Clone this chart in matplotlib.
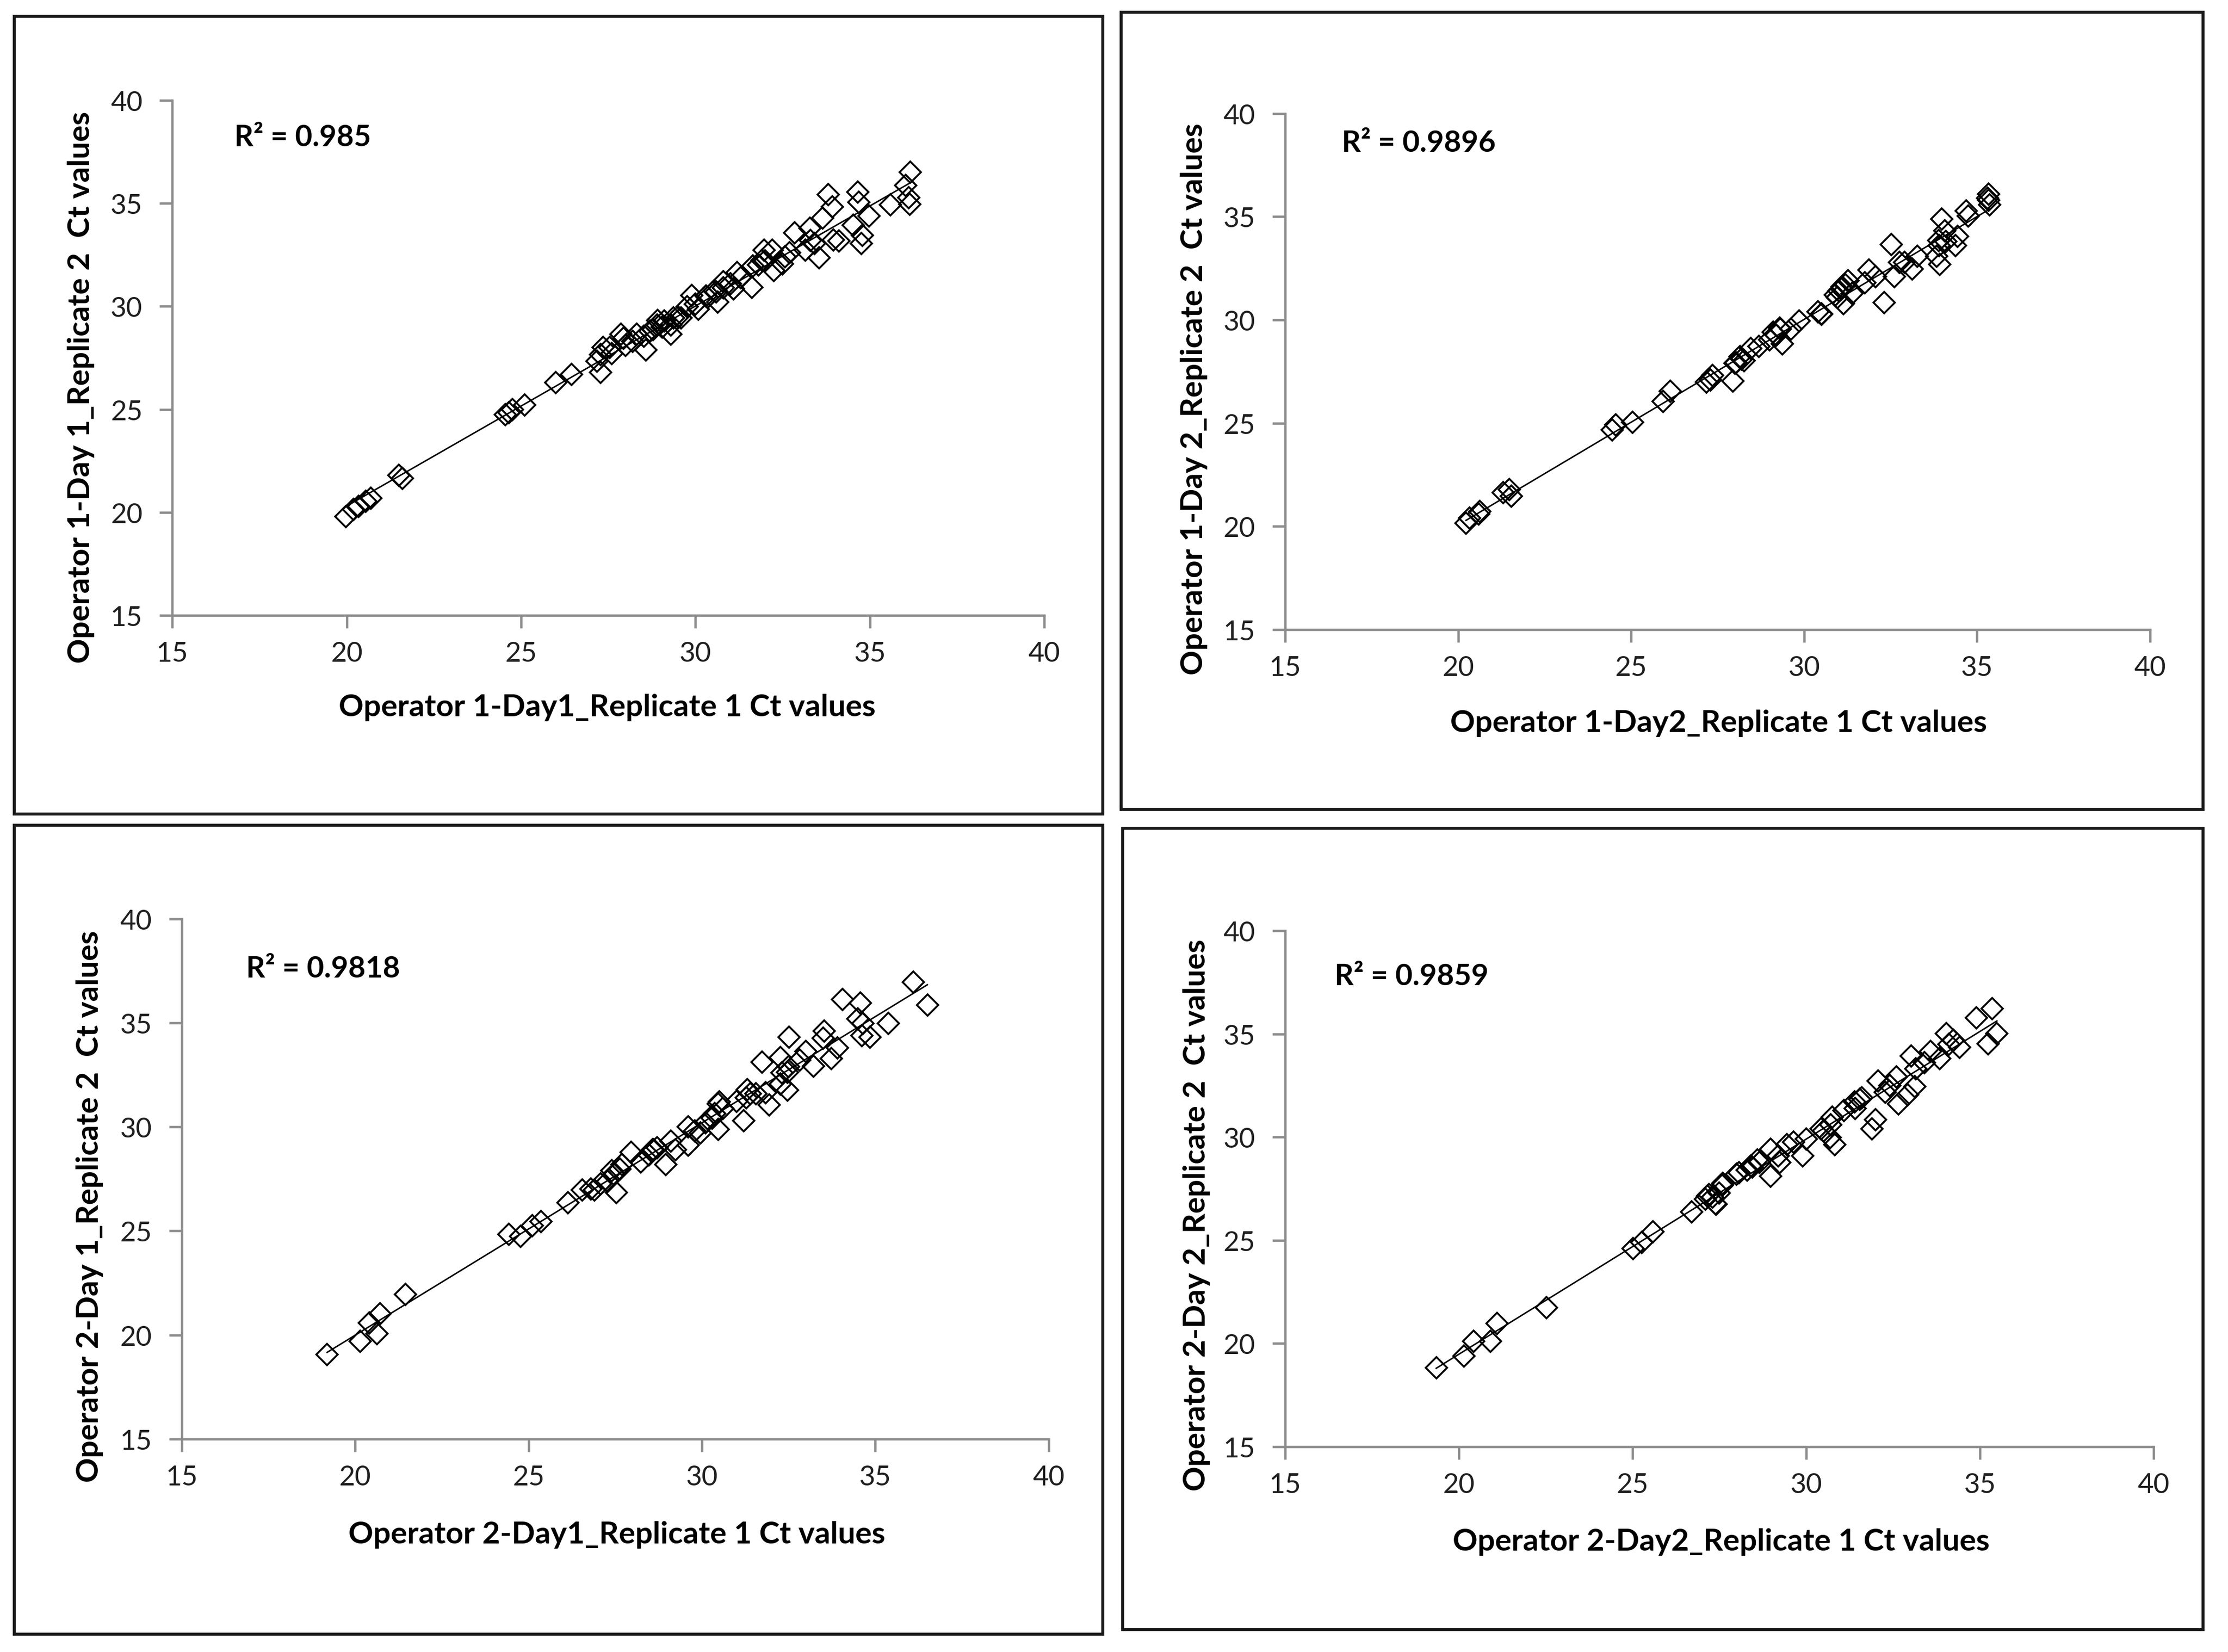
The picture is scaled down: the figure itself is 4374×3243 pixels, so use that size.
import matplotlib.pyplot as plt
import numpy as np
from matplotlib.patches import Rectangle

plt.rcParams['font.family'] = ['Lato', 'DejaVu Sans']

# Ct values (x = replicate 1, y = replicate 2)
op1_d1_rep1 = [19.98, 20.2, 20.35, 20.55, 20.7, 21.5, 21.6, 24.55, 24.65, 24.75, 25.1, 26.0, 26.45,
               36.16, 36.02, 36.12, 36.15, 35.59, 34.65, 34.68, 34.97, 34.52, 34.78, 34.75, 33.8, 33.93,
               33.64, 34.12, 33.54, 33.96, 33.28, 32.85, 33.15, 33.41, 32.56, 32.5, 31.97, 32.2, 31.91,
               32.24, 31.65, 31.62, 31.19, 31.09, 30.8, 30.54, 30.34, 30.64, 30.08, 29.76, 29.89, 29.59,
               29.37, 29.3, 29.04, 28.91, 28.78, 28.58, 28.52, 28.32, 27.87, 27.93, 27.54, 27.35, 27.28,
               27.18, 27.28, 28.9, 29.1, 29.5, 30.3, 30.8, 31.0, 31.3, 28.2, 28.0, 27.6, 30.0, 31.8, 32.0,
               32.7, 33.3, 28.7, 29.3, 30.6]
op1_d1_rep2 = [19.8, 20.15, 20.3, 20.55, 20.7, 21.8, 21.65, 24.75, 24.85, 25.0, 25.2, 26.3, 26.7,
               36.5, 35.88, 35.27, 34.96, 34.94, 35.54, 35.05, 34.39, 33.94, 33.45, 33.06, 35.43, 34.83,
               34.28, 33.18, 32.35, 33.23, 33.78, 33.56, 32.73, 33.06, 32.4, 32.07, 32.73, 32.73, 32.24,
               31.74, 31.96, 30.92, 31.63, 30.86, 31.19, 30.75, 30.42, 30.2, 29.87, 29.98, 30.53, 29.43,
               29.43, 28.66, 28.99, 29.32, 28.88, 27.89, 28.55, 28.66, 28.66, 28.44, 28.0, 28.0, 26.79,
               27.34, 27.67, 29.1, 29.3, 29.5, 30.5, 30.9, 31.1, 31.4, 28.3, 28.1, 27.7, 30.1, 32.0, 32.2,
               32.6, 33.2, 28.8, 29.1, 30.7]

op1_d2_rep1 = [20.23, 20.33, 20.6, 20.63, 21.3, 21.48, 21.54, 24.46, 24.55, 25.04, 25.92, 26.13,
               35.33, 35.33, 35.36, 34.68, 34.75, 33.98, 34.07, 34.44, 34.38, 33.89, 33.92, 33.83, 33.28,
               33.13, 32.52, 32.76, 32.61, 32.31, 31.88, 32.06, 31.75, 31.27, 31.08, 30.96, 31.14, 31.39,
               30.5, 29.86, 29.62, 29.31, 29.19, 29.37, 29.01, 28.7, 28.46, 28.15, 28.03, 28.27, 27.94,
               27.36, 27.3, 27.18, 31.0, 31.1, 30.9, 31.2, 30.4, 30.5, 29.1, 29.3, 28.0, 28.2, 33.9, 34.1,
               35.3, 32.9]
op1_d2_rep2 = [20.16, 20.4, 20.61, 20.73, 21.63, 21.79, 21.47, 24.66, 24.91, 25.03, 26.05, 26.55,
               36.1, 35.8, 35.59, 35.29, 35.03, 34.88, 34.31, 34.06, 33.6, 33.85, 32.68, 33.08, 33.08,
               32.47, 33.65, 32.78, 32.11, 30.83, 32.42, 32.11, 31.81, 31.91, 31.5, 31.09, 30.78, 31.29,
               30.27, 29.96, 29.55, 29.55, 29.25, 28.84, 29.04, 28.73, 28.63, 28.22, 27.92, 28.02, 27.05,
               27.3, 27.1, 26.99, 31.4, 31.6, 31.2, 31.7, 30.4, 30.3, 29.4, 29.6, 27.9, 28.1, 33.6, 33.8,
               35.9, 32.8]

op2_d1_rep1 = [19.19, 20.14, 20.41, 20.63, 20.72, 21.45, 24.43, 24.77, 25.11, 25.35, 26.14, 26.54, 26.9,
               36.1, 36.5, 34.05, 34.57, 34.5, 34.64, 34.61, 34.85, 35.38, 33.52, 33.49, 33.91, 33.73,
               32.51, 33.0, 33.21, 32.82, 31.73, 32.26, 32.47, 32.26, 32.47, 31.94, 31.84, 31.56, 31.21,
               31.0, 31.28, 30.47, 30.37, 30.47, 30.3, 29.95, 29.6, 29.6, 29.1, 29.24, 28.96, 28.58, 28.47,
               28.23, 27.95, 27.63, 27.46, 27.53, 27.28, 27.07, 26.79, 30.5, 30.6, 31.3, 31.4, 32.3, 32.5,
               28.6, 28.7, 27.4, 27.7, 29.8, 30.1]
op2_d1_rep2 = [19.05, 19.71, 20.57, 20.07, 21.03, 21.95, 24.84, 24.74, 25.25, 25.45, 26.37, 26.98, 26.98,
               36.96, 35.85, 36.14, 35.97, 35.21, 34.98, 34.39, 34.33, 34.98, 34.62, 34.27, 33.81, 33.28,
               34.33, 33.63, 32.93, 33.22, 33.11, 33.34, 32.64, 32.06, 31.76, 31.06, 31.65, 31.59, 30.3,
               31.24, 31.41, 31.12, 30.65, 29.89, 30.42, 29.72, 30.01, 29.13, 29.31, 28.9, 28.2, 28.9, 28.67,
               28.32, 28.78, 27.97, 27.73, 26.86, 27.38, 27.27, 27.03, 31.2, 30.9, 31.8, 31.6, 32.6, 32.9,
               28.9, 29.0, 27.9, 28.2, 29.8, 30.2]

op2_d2_rep1 = [19.35, 20.15, 20.42, 20.91, 21.1, 22.53, 25.01, 25.26, 25.59, 26.7, 27.15, 27.4, 27.58, 28.07,
               35.36, 34.9, 35.49, 35.23, 34.04, 34.24, 34.41, 33.58, 33.85, 33.02, 33.16, 32.6, 33.12,
               32.92, 32.66, 32.07, 32.27, 31.9, 32.0, 31.54, 31.41, 31.08, 30.82, 30.75, 30.42, 30.69,
               29.9, 29.63, 29.44, 28.97, 29.24, 28.97, 28.65, 28.45, 27.99, 27.59, 27.39, 27.2, 27.1,
               28.4, 28.6, 28.3, 27.3, 27.5, 30.5, 30.7, 31.4, 31.6, 32.4, 33.4, 34.1, 29.2, 30.0]
op2_d2_rep2 = [18.83, 19.39, 20.1, 20.1, 20.97, 21.74, 24.59, 24.9, 25.41, 26.38, 27.14, 26.74, 27.65, 28.27,
               36.23, 35.79, 35.02, 34.53, 35.02, 34.69, 34.36, 34.14, 33.81, 33.92, 33.32, 32.93, 32.44,
               32.06, 31.62, 32.71, 32.17, 30.41, 30.85, 31.84, 31.4, 31.29, 29.64, 30.96, 30.41, 29.97,
               29.09, 29.75, 29.64, 29.42, 28.76, 28.1, 28.76, 28.54, 28.21, 27.77, 26.78, 27.22, 27.0,
               28.6, 28.9, 28.4, 27.1, 27.3, 30.3, 30.6, 31.7, 31.9, 32.5, 33.6, 34.5, 29.1, 29.9]

x_labels = ['Operator 1-Day1_Replicate 1 Ct values', 'Operator 1-Day2_Replicate 1 Ct values',
            'Operator 2-Day1_Replicate 1 Ct values', 'Operator 2-Day2_Replicate 1 Ct values']
y_labels = ['Operator 1-Day 1_Replicate 2  Ct values', 'Operator 1-Day 2_Replicate 2  Ct values',
            'Operator 2-Day 1_Replicate 2  Ct values', 'Operator 2-Day 2_Replicate 2  Ct values']
r2_labels = ['R² = 0.985', 'R² = 0.9896', 'R² = 0.9818', 'R² = 0.9859']
ticks = [15, 20, 25, 30, 35, 40]

series = [(op1_d1_rep1, op1_d1_rep2), (op1_d2_rep1, op1_d2_rep2),
          (op2_d1_rep1, op2_d1_rep2), (op2_d2_rep1, op2_d2_rep2)]

axes_pos = [[0.0773, 0.6273, 0.3914, 0.3117], [0.5768, 0.6187, 0.3882, 0.3123],
            [0.0816, 0.1289, 0.3891, 0.3147], [0.5768, 0.1242, 0.3898, 0.3123]]
frames = [[0.0064, 0.5071, 0.4886, 0.4827], [0.5032, 0.5099, 0.4856, 0.4824],
          [0.0064, 0.0108, 0.4886, 0.4895], [0.5039, 0.0136, 0.4849, 0.4849]]
ylab_pos = [(-0.1046, 0.444), (-0.1054, 0.448), (-0.1063, 0.448), (-0.102, 0.45)]
xlab_pos = [(0.499, -0.178), (0.501, -0.181), (0.502, -0.183), (0.502, -0.184)]
r2_pos = [(16.78, 38.2), (16.63, 38.57), (16.85, 37.6), (16.42, 37.8)]

fig = plt.figure(figsize=(14.58, 10.8133), dpi=300)

for i, (xs, ys) in enumerate(series):
    x = np.array(xs)
    y = np.array(ys)
    ax = fig.add_axes(axes_pos[i])

    # trendline
    k, b = np.polyfit(x, y, 1)
    xl = np.array([x.min(), x.max()])
    ax.plot(xl, k * xl + b, color='black', linewidth=0.7, zorder=2)
    ax.plot(x, y, linestyle='none', marker='D', markersize=7.2, markerfacecolor='none',
            markeredgecolor='black', markeredgewidth=0.9, zorder=3)

    ax.set_xlim(15, 40)
    ax.set_ylim(15, 40)
    ax.set_xticks(ticks)
    ax.set_yticks(ticks)
    ax.spines['top'].set_visible(False)
    ax.spines['right'].set_visible(False)
    for s in ['left', 'bottom']:
        ax.spines[s].set_color('#8c8c8c')
        ax.spines[s].set_linewidth(1.1)
    ax.tick_params(direction='out', length=6, width=1.1, color='#8c8c8c',
                   labelsize=13, labelcolor='#1f1f1f')
    ax.tick_params(axis='x', pad=6)
    ax.tick_params(axis='y', pad=8)

    ax.set_xlabel(x_labels[i], fontsize=14.5, fontweight='bold', color='black')
    ax.xaxis.set_label_coords(*xlab_pos[i])
    ax.xaxis.label.set_verticalalignment('center')
    ax.set_ylabel(y_labels[i], fontsize=14.5, fontweight='bold', color='black')
    ax.yaxis.set_label_coords(*ylab_pos[i])
    ax.yaxis.label.set_verticalalignment('center')

    ax.text(r2_pos[i][0], r2_pos[i][1], r2_labels[i], fontsize=14, fontweight='bold',
            ha='left', va='center', color='black')

    fr = frames[i]
    fig.patches.append(Rectangle((fr[0], fr[1]), fr[2], fr[3], transform=fig.transFigure,
                                 fill=False, edgecolor='#1a1a1a', linewidth=1.4))

fig.savefig('out.png', dpi=300, facecolor='white')
